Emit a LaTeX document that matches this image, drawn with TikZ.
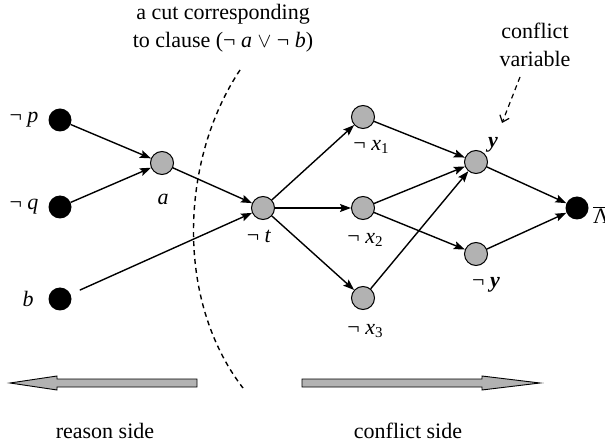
\documentclass[tikz,border=0pt]{standalone}
\usepackage{fontspec}
\setmainfont{Liberation Serif}
\usetikzlibrary{arrows.meta}
\begin{document}
\begin{tikzpicture}[x=1pt,y=-1pt,
  font=\fontsize{22}{26}\selectfont,
  blk/.style={circle,fill=black,minimum size=23pt,inner sep=0pt},
  gry/.style={circle,fill=gray!60,draw=black,line width=1pt,minimum size=23pt,inner sep=0pt},
  conn/.style={line width=1.4pt,-{Stealth[length=11pt,width=8pt,inset=2pt]}},
  lbl/.style={inner sep=0pt},
  cutline/.style={line width=1.4pt,dash pattern=on 5pt off 4pt},
  bigarrow/.style={fill=gray!60,draw=black,line width=0.9pt},
]
\useasboundingbox (0,0) rectangle (605,446);
\clip (0,0) rectangle (605,446);

% nodes
\node[blk] (p) at (60,120) {};
\node[blk] (q) at (60,207) {};
\node[blk] (b) at (60,299) {};
\node[gry] (a) at (162,163) {};
\node[gry] (t) at (263,208) {};
\node[gry] (x1) at (363,117) {};
\node[gry] (x2) at (363,208) {};
\node[gry] (x3) at (363,298) {};
\node[gry] (y) at (476,162) {};
\node[gry] (ny) at (476,254) {};
\node[blk] (L) at (577,208) {};

% labels
\node[lbl] (lp) at (24,120) {¬ \textit{p}};
\node[lbl] (lq) at (24,207) {¬ \textit{q}};
\node[lbl] (lb) at (28,299) {\textit{b}};
\node[lbl] (la) at (163,199) {\textit{a}};
\node[lbl] (lt) at (259,236) {¬ \textit{t}};
\node[lbl] (lx1) at (371,147) {¬ \textit{x}\raisebox{-0.35ex}{\fontsize{15}{15}\selectfont 1}};
\node[lbl] (lx2) at (365,240) {¬ \textit{x}\raisebox{-0.35ex}{\fontsize{15}{15}\selectfont 2}};
\node[lbl] (lx3) at (365,331) {¬ \textit{x}\raisebox{-0.35ex}{\fontsize{15}{15}\selectfont 3}};
\node[lbl] (ly) at (493,145) {\textbf{\textit{y}}};
\node[lbl] (lny) at (486,285) {¬ \textbf{\textit{y}}};
\node[lbl,anchor=west] (lL) at (593,215) {$\overline{\mbox{Λ}}$};

% texts
\node[lbl] (cut1) at (223,14) {a cut corresponding};
\node[lbl] (cut2) at (223,42) {to clause (¬ \textit{a} $\vee$ ¬ \textit{b})};
\node[lbl] (cv1) at (535,31) {conflict};
\node[lbl] (cv2) at (535,59) {variable};
\node[lbl] (rs) at (105,431) {reason side};
\node[lbl] (cs) at (408,431) {conflict side};

% edges
\draw[conn] (p) -- (a);
\draw[conn] (q) -- (a);
\draw[conn] (a) -- (t);
\draw[conn,shorten <=10pt] (b) -- (t);
\draw[conn] (t) -- (x1);
\draw[conn] (t) -- (x2);
\draw[conn] (t) -- (x3);
\draw[conn] (x1) -- (y);
\draw[conn] (x2) -- (y);
\draw[conn] (x3) -- (y);
\draw[conn] (x2) -- (ny);
\draw[conn] (y) -- (L);
\draw[conn] (ny) -- (L);

% cut
\coordinate (cuttop) at (240,70);
\coordinate (cutbot) at (243,388);
\draw[cutline] (cuttop) .. controls (180,160) and (175,300) .. (cutbot);

% conflict variable pointer
\coordinate (cvs) at (520,77);
\coordinate (cve) at (502,123);
\draw[cutline,line width=1.2pt,-{Straight Barb[length=6pt,width=10pt]}] (cvs) -- (cve);

% big arrows
\draw[bigarrow] (197,379) -- (57,379) -- (57,376) -- (10,383) -- (57,390) -- (57,387) -- (197,387) -- cycle;
\draw[bigarrow] (302,379) -- (482,379) -- (482,376) -- (540,383) -- (482,390) -- (482,387) -- (302,387) -- cycle;
\end{tikzpicture}
\end{document}
